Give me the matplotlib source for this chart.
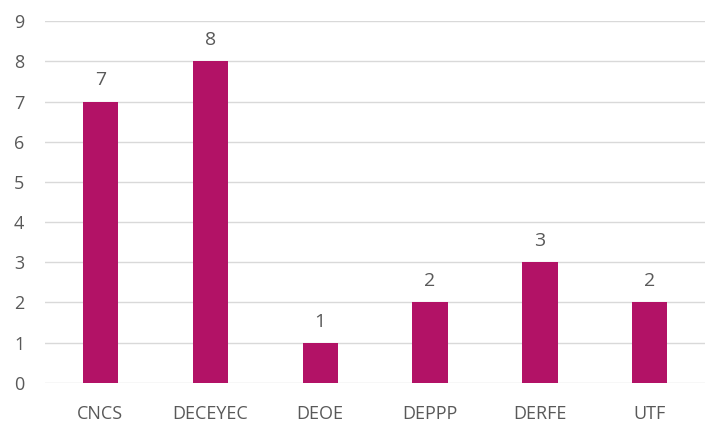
import matplotlib
matplotlib.use('Agg')
import matplotlib.pyplot as plt

categories = ['CNCS', 'DECEYEC', 'DEOE', 'DEPPP', 'DERFE', 'UTF']
values = [7, 8, 1, 2, 3, 2]

bar_color = '#B21266'
text_color = '#595959'

plt.rcParams['font.family'] = ['Open Sans', 'DejaVu Sans']

fig = plt.figure(figsize=(7.07, 4.23), dpi=100)
ax = fig.add_axes([0.064, 0.095, 0.933, 0.855])

x = range(len(categories))
bars = ax.bar(x, values, width=0.32, color=bar_color, zorder=3)

for xi, v in zip(x, values):
    ax.text(xi, v + 0.3, str(v), ha='center', va='bottom',
            fontsize=14, color=text_color)

ax.set_xlim(-0.5, len(categories) - 0.5)
ax.set_ylim(0, 9)
ax.set_yticks(range(0, 10))
ax.set_xticks(list(x))
ax.set_xticklabels(categories)
ax.grid(axis='y', color='#D9D9D9', linewidth=1, zorder=0)
for s in ax.spines.values():
    s.set_visible(False)
ax.tick_params(axis='both', length=0, labelsize=13, colors=text_color)
ax.tick_params(axis='x', pad=16)
ax.tick_params(axis='y', pad=15)

fig.savefig('out.png', dpi=100)
